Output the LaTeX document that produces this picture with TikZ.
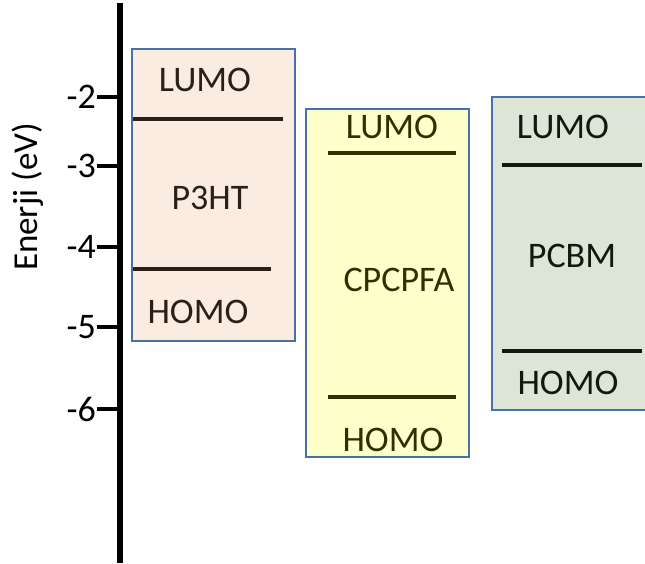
\documentclass[tikz,border=0pt]{standalone}
\usepackage{fontspec}
\setmainfont{Carlito}
\definecolor{framecol}{HTML}{4672A8}
\definecolor{peach}{HTML}{FBECE2}
\definecolor{paleyellow}{HTML}{FFFFCC}
\definecolor{sage}{HTML}{DCE5D6}
\definecolor{brownink}{HTML}{2B2018}
\definecolor{oliveink}{HTML}{2F2F00}
\definecolor{greenink}{HTML}{0F1A0C}
\begin{document}
\begin{tikzpicture}[x=1pt,y=-1pt,
  band/.style={draw=framecol, line width=1.8pt, anchor=north west, inner sep=0pt},
  level/.style={line width=4.3pt},
  lbl/.style={font=\fontsize{36}{40}\selectfont, inner sep=0pt},
  ticklbl/.style={font=\fontsize{36}{40}\selectfont, inner sep=0pt, anchor=east},
  axisline/.style={line width=5.5pt},
  tickline/.style={line width=4pt}]
\useasboundingbox (0,0) rectangle (645,563);

% energy bands
\node[band, fill=peach, minimum width=163pt, minimum height=292pt] (p3ht) at (131,48) {};
\node[band, fill=paleyellow, minimum width=163pt, minimum height=348pt] (cpcpfa) at (305,108) {};
\node[band, fill=sage, minimum width=165pt, minimum height=313pt] (pcbm) at (491,96) {};

% LUMO / HOMO levels
\draw[level, brownink] (133,119) -- (283,119);
\draw[level, brownink] (133,269) -- (271,269);
\draw[level, oliveink] (328,153) -- (456,153);
\draw[level, oliveink] (328,397) -- (456,397);
\draw[level, greenink] (502,165) -- (642,165);
\draw[level, greenink] (502,351) -- (642,351);

% band labels
\node[lbl, text=brownink] (l1) at (205,80) {LUMO};
\node[lbl, text=brownink] (n1) at (210,198) {P3HT};
\node[lbl, text=brownink] (h1) at (198,312) {HOMO};
\node[lbl, text=oliveink] (l2) at (392,127) {LUMO};
\node[lbl, text=oliveink] (n2) at (399,280) {CPCPFA};
\node[lbl, text=oliveink] (h2) at (393,440) {HOMO};
\node[lbl, text=greenink] (l3) at (563,127) {LUMO};
\node[lbl, text=greenink] (n3) at (572,256) {PCBM};
\node[lbl, text=greenink] (h3) at (568,383) {HOMO};

% energy axis
\draw[axisline] (120,3) -- (120,563);
\foreach \v/\y in {2/97,3/166,4/247,5/327,6/409}{
  \draw[tickline] (97,\y) -- (120,\y);
  \node[ticklbl] (t\v) at (96,\y) {-\v};
}
\node[lbl, rotate=90, font=\fontsize{35}{38}\selectfont] (ylab) at (28,197) {Enerji (eV)};
\end{tikzpicture}
\end{document}
